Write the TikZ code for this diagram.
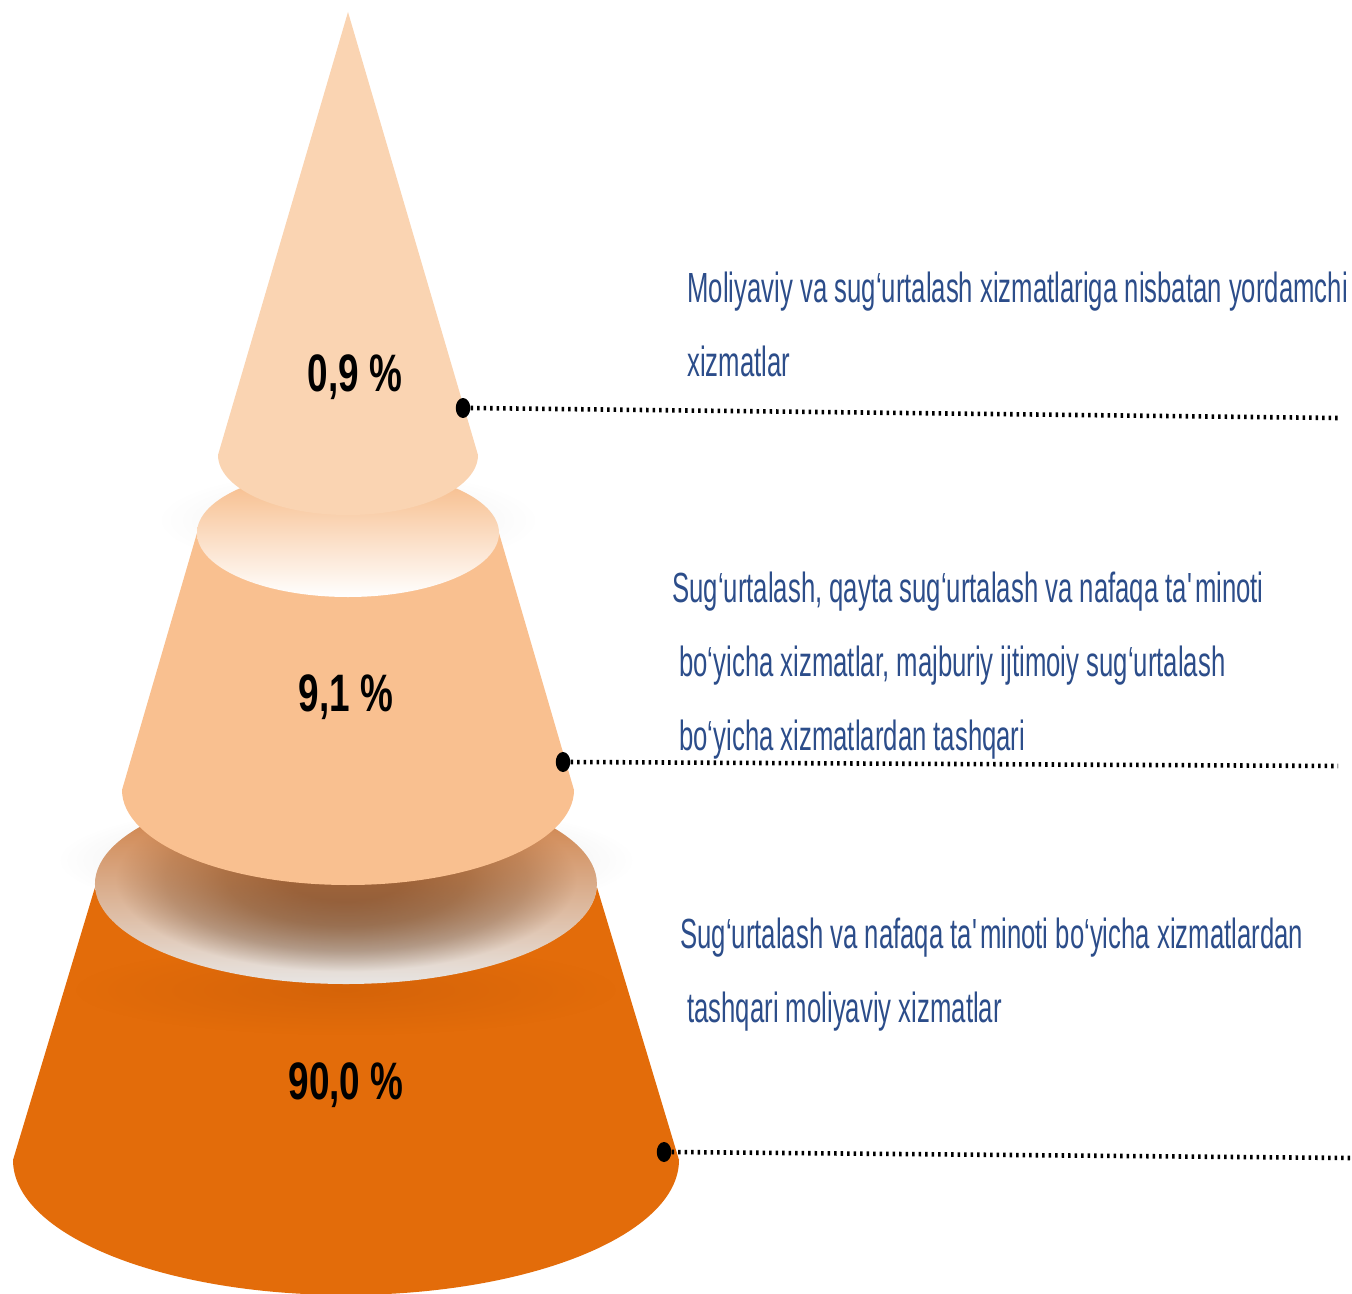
\documentclass[tikz,border=0pt]{standalone}
\usepackage{fontspec}
\setmainfont{Liberation Sans}
\newfontfamily\labfont[FakeStretch=0.61]{Liberation Sans}
\newfontfamily\pctfont[FakeStretch=0.70]{Liberation Sans}
\usetikzlibrary{shapes.geometric,fadings}
\definecolor{cone1}{HTML}{FAD4B2}
\definecolor{cone2}{HTML}{F9C090}
\definecolor{cone2top}{HTML}{F6B781}
\definecolor{cone3}{HTML}{E36C0A}
\definecolor{cone3dark}{HTML}{CC5E08}
\definecolor{ringdark}{HTML}{6F5443}
\definecolor{ringdark2}{HTML}{857060}
\definecolor{ringmid}{HTML}{ADA39B}
\definecolor{ringlight}{HTML}{E8E6E4}
\definecolor{ringtop}{HTML}{CC7230}
\definecolor{txtblue}{RGB}{44,77,138}
\pgfdeclareradialshading{ringshade}{\pgfpoint{0bp}{2bp}}{color(0bp)=(ringdark); color(6bp)=(ringdark); color(12bp)=(ringdark2); color(18bp)=(ringmid); color(23bp)=(ringlight); color(50bp)=(ringlight)}
\tikzfading[name=topfade, top color=transparent!0, middle color=transparent!100, bottom color=transparent!100]
\tikzfading[name=glowfade, inner color=transparent!0, outer color=transparent!100]
\tikzset{
  lab/.style={anchor=base west, inner sep=0pt, text=txtblue, font=\labfont\fontsize{24}{28}\selectfont},
  pct/.style={anchor=base, inner sep=0pt, text=black, font=\pctfont\bfseries\fontsize{30}{34}\selectfont},
  dotmark/.style={ellipse, fill=black, inner sep=0pt, minimum width=0.29cm, minimum height=0.40cm},
  dotline/.style={line width=2.6pt, dash pattern=on 1.4pt off 2.3pt, black}
}
\begin{document}
\begin{tikzpicture}[x=0.02cm,y=0.02cm]
\useasboundingbox (0,0) rectangle (1352,-1294);
% soft glows
\fill[black!40, opacity=0.35, path fading=glowfade] (346,-860) ellipse[x radius=290, y radius=60];
\fill[black!30, opacity=0.25, path fading=glowfade] (348,-520) ellipse[x radius=190, y radius=50];
% segment 3
\fill[cone3] (96,-884) -- (13,-1160) arc[start angle=180, end angle=360, x radius=333, y radius=135] -- (596,-884) -- cycle;
\fill[cone3dark, opacity=0.6, path fading=glowfade] (346,-990) ellipse[x radius=270, y radius=45];
\shade[shading=ringshade] (346,-884) ellipse[x radius=251, y radius=100];
\fill[ringtop, path fading=topfade] (346,-884) ellipse[x radius=251, y radius=100];
% segment 2
\fill[cone2] (197,-533) -- (122,-790) arc[start angle=180, end angle=360, x radius=226, y radius=95] -- (499,-533) -- cycle;
\shade[top color=cone2top, bottom color=white] (348,-533) ellipse[x radius=151, y radius=64];
% segment 1
\fill[cone1] (348,-12) -- (218,-455) arc[start angle=180, end angle=360, x radius=130, y radius=60] -- cycle;
% percentages
\node[pct] (p1) at (355,-391) {0,9 \%};
\node[pct] (p2) at (346,-711) {9,1 \%};
\node[pct] (p3) at (346,-1099) {90,0 \%};
% markers and leaders
\node[dotmark] (d1) at (463,-408) {};
\node[dotmark] (d2) at (563,-762) {};
\node[dotmark] (d3) at (664,-1152) {};
\coordinate (e1) at (1338,-418);
\coordinate (e2) at (1338,-766);
\coordinate (e3) at (1350,-1158);
\draw[dotline] (d1.east) -- (e1);
\draw[dotline] (d2.east) -- (e2);
\draw[dotline] (d3.east) -- (e3);
% labels
\node[lab] (t1a) at (687,-302) {Moliyaviy va sug‘urtalash xizmatlariga nisbatan yordamchi};
\node[lab] (t1b) at (687,-376) {xizmatlar};
\node[lab] (t2a) at (672,-602) {Sug‘urtalash, qayta sug‘urtalash va nafaqa ta\textquotesingle minoti};
\node[lab] (t2b) at (679,-676) {bo‘yicha xizmatlar, majburiy ijtimoiy sug‘urtalash};
\node[lab] (t2c) at (679,-750) {bo‘yicha xizmatlardan tashqari};
\node[lab] (t3a) at (680,-948) {Sug‘urtalash va nafaqa ta\textquotesingle minoti bo‘yicha xizmatlardan};
\node[lab] (t3b) at (687,-1022) {tashqari moliyaviy xizmatlar};
\end{tikzpicture}
\end{document}
